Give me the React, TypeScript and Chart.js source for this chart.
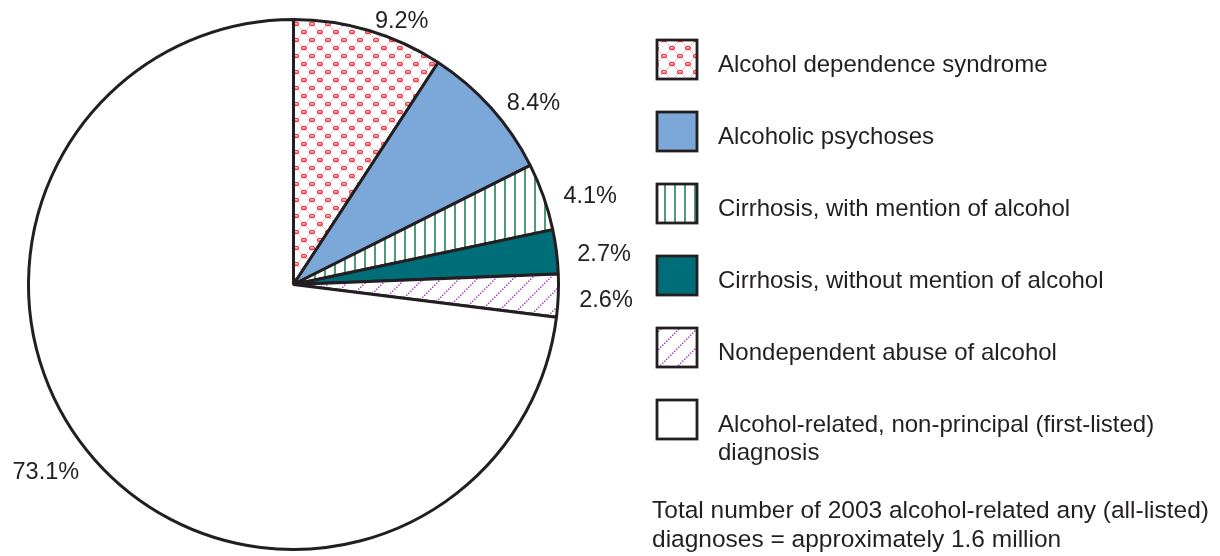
import React, { useEffect, useRef } from "react";
import { Chart, registerables } from "chart.js";

Chart.register(...registerables);

const categories = [
  "Alcohol dependence syndrome",
  "Alcoholic psychoses",
  "Cirrhosis, with mention of alcohol",
  "Cirrhosis, without mention of alcohol",
  "Nondependent abuse of alcohol",
  "Alcohol-related, non-principal (first-listed) diagnosis",
];
const legendLines = [
  ["Alcohol dependence syndrome"],
  ["Alcoholic psychoses"],
  ["Cirrhosis, with mention of alcohol"],
  ["Cirrhosis, without mention of alcohol"],
  ["Nondependent abuse of alcohol"],
  ["Alcohol-related, non-principal (first-listed)", "diagnosis"],
];
const values = [9.2, 8.4, 4.1, 2.7, 2.6, 73.1];
const valueLabels = ["9.2%", "8.4%", "4.1%", "2.7%", "2.6%", "73.1%"];
const footnote = [
  "Total number of 2003 alcohol-related any (all-listed)",
  "diagnoses = approximately 1.6 million",
];

const INK = "#231f20";
const FAMILY = '"Liberation Sans", Arial, sans-serif';

function tile(
  ctx: CanvasRenderingContext2D,
  w: number,
  h: number,
  draw: (c: CanvasRenderingContext2D) => void
): CanvasPattern | string {
  const cv = document.createElement("canvas");
  cv.width = w;
  cv.height = h;
  const c = cv.getContext("2d")!;
  c.fillStyle = "#ffffff";
  c.fillRect(0, 0, w, h);
  draw(c);
  return ctx.createPattern(cv, "repeat") || "#ffffff";
}

function makeFills(ctx: CanvasRenderingContext2D) {
  const red = tile(ctx, 16, 16, (c) => {
    c.strokeStyle = "#f46b76";
    c.lineWidth = 1;
    c.setLineDash([1.2, 1.6]);
    c.beginPath();
    c.moveTo(0, 0);
    c.lineTo(16, 16);
    c.moveTo(16, 0);
    c.lineTo(0, 16);
    c.stroke();
    c.setLineDash([]);
    const node = (x: number, y: number) => {
      c.strokeStyle = "#ee3344";
      c.lineWidth = 1.3;
      c.beginPath();
      c.ellipse(x, y, 2.4, 1.6, 0, 0, Math.PI * 2);
      c.stroke();
    };
    node(8, 8);
    node(0, 0);
    node(16, 0);
    node(0, 16);
    node(16, 16);
  });
  const green = tile(ctx, 10, 10, (c) => {
    c.strokeStyle = "#157a4c";
    c.lineWidth = 1.5;
    c.beginPath();
    c.moveTo(5, 0);
    c.lineTo(5, 10);
    c.stroke();
  });
  const purple = tile(ctx, 18, 18, (c) => {
    c.fillStyle = "#b04cc8";
    for (let i = 0; i < 18; i += 2) {
      const x = i;
      const y = 18 - i;
      c.fillRect(x, y - 1.5, 1.5, 1.5);
    }
  });
  return [red, "#7ba7d9", green, "#006e79", purple, "#ffffff"];
}

const overlayPlugin = {
  id: "overlay",
  afterDraw(chart: any) {
    const ctx: CanvasRenderingContext2D = chart.ctx;
    const meta = chart.getDatasetMeta(0);
    const fills = chart.data.datasets[0].backgroundColor;
    ctx.save();
    ctx.fillStyle = INK;
    // slice value labels
    ctx.font = "23.5px " + FAMILY;
    ctx.textBaseline = "middle";
    meta.data.forEach((arc: any, i: number) => {
      const p = arc.getProps(["x", "y", "startAngle", "endAngle", "outerRadius"], true);
      const mid = (p.startAngle + p.endAngle) / 2;
      const x = p.x + Math.cos(mid) * (p.outerRadius + 21);
      const y = p.y + Math.sin(mid) * (p.outerRadius + 13) + 4;
      ctx.textAlign = Math.cos(mid) >= 0 ? "left" : "right";
      ctx.fillStyle = INK;
      ctx.fillText(valueLabels[i], x, y);
    });
    // legend
    const bx = 657;
    const by0 = 40;
    const step = 72;
    const bw = 40;
    const bh = 39;
    ctx.font = "24px " + FAMILY;
    legendLines.forEach((lines, i) => {
      const by = by0 + i * step;
      ctx.fillStyle = fills[i];
      ctx.fillRect(bx, by, bw, bh);
      ctx.strokeStyle = INK;
      ctx.lineWidth = 2.8;
      ctx.strokeRect(bx, by, bw, bh);
      ctx.fillStyle = INK;
      ctx.textAlign = "left";
      ctx.textBaseline = "alphabetic";
      lines.forEach((t, j) => {
        ctx.fillText(t, 718, by + 32 + j * 28);
      });
    });
    // footnote
    ctx.font = "24.5px " + FAMILY;
    footnote.forEach((t, j) => {
      ctx.fillText(t, 652, 518 + j * 29);
    });
    ctx.restore();
  },
};

export default function App() {
  const ref = useRef<HTMLCanvasElement | null>(null);
  useEffect(() => {
    const canvas = ref.current!;
    const ctx = canvas.getContext("2d")!;
    const fills = makeFills(ctx);
    const chart = new Chart(canvas, {
      type: "pie",
      data: {
        labels: categories,
        datasets: [
          {
            data: values,
            backgroundColor: fills as any,
            borderColor: INK,
            borderWidth: 3,
            hoverOffset: 0,
          },
        ],
      },
      options: {
        responsive: false,
        animation: false,
        events: [],
        layout: { padding: { left: 27, top: 18, right: 660, bottom: 5 } },
        plugins: {
          legend: { display: false },
          tooltip: { enabled: false },
        },
      },
      plugins: [overlayPlugin],
    });
    return () => chart.destroy();
  }, []);
  return (
    <div style={{ position: "absolute", left: 0, top: 0, width: 1220, height: 556, background: "#fff" }}>
      <canvas ref={ref} width={1220} height={556} style={{ display: "block" }} />
    </div>
  );
}
